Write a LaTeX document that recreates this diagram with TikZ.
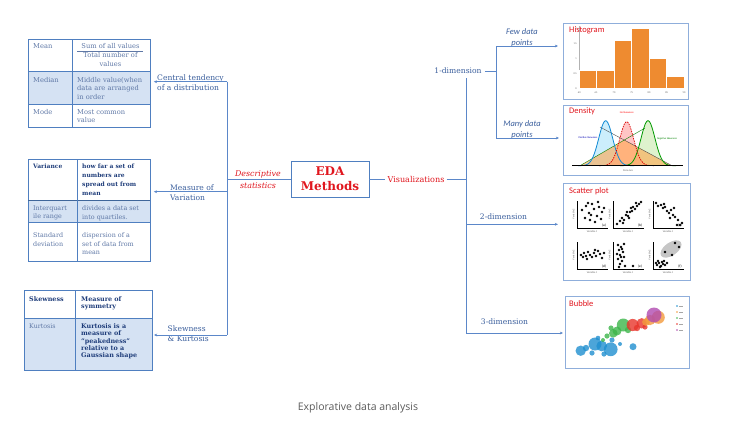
\documentclass[tikz,border=0pt]{standalone}
\usepackage{fontspec}
\setmainfont{DejaVu Serif}
\newfontfamily\capfont{Open Sans}
\newfontfamily\cali{Carlito}
\usetikzlibrary{arrows.meta,calc}
\definecolor{lineblue}{HTML}{5B87C9}
\definecolor{tabblue}{HTML}{4F7FC0}
\definecolor{rowshade}{HTML}{D5E2F3}
\definecolor{txtblue}{HTML}{3A5E9C}
\definecolor{dkblue}{HTML}{1F3D7A}
\definecolor{gtxt}{HTML}{5F78A6}
\definecolor{edared}{HTML}{E0161E}
\definecolor{imgframe}{HTML}{8FAEDB}
\definecolor{histor}{HTML}{EE8B30}
\definecolor{capgray}{HTML}{5A5A5A}
\definecolor{bblue}{HTML}{1F8FCF}
\definecolor{bgreen}{HTML}{3CB54A}
\definecolor{bred}{HTML}{E8342B}
\definecolor{borange}{HTML}{F39A3B}
\definecolor{bpurple}{HTML}{B04AB0}
\begin{document}
\begin{tikzpicture}[x=1pt,y=-1pt,
 conn/.style={draw=lineblue, line width=0.7pt},
 arr/.style={conn, -{Stealth[length=3.2pt,width=2.8pt]}},
 tabline/.style={draw=tabblue, line width=0.8pt},
 tabframe/.style={draw=tabblue, line width=0.8pt, anchor=north west, inner sep=0pt},
 ttxt/.style={anchor=north west, inner sep=0pt, font=\fontsize{6.7}{8.5}\selectfont, align=left, text=gtxt},
 btxt/.style={anchor=north west, inner sep=0pt, font=\bfseries\fontsize{6}{9}\selectfont, align=left, text=dkblue},
 ctxt/.style={anchor=north west, inner sep=0pt, font=\bfseries\fontsize{6.4}{7.3}\selectfont, align=left, text=dkblue},
 lbl/.style={inner sep=0pt, font=\fontsize{7.6}{10}\selectfont, align=left, text=txtblue},
 imgbox/.style={draw=imgframe, line width=1.1pt, anchor=north west, inner sep=0pt},
 ititle/.style={anchor=north west, inner sep=0pt, font=\cali\fontsize{8.5}{9}\selectfont, text=edared},
 tiny/.style={inner sep=0pt, font=\cali\fontsize{2.6}{3}\selectfont, text=black!60},
 sidelbl/.style={inner sep=0pt, font=\cali\itshape\fontsize{8.5}{11}\selectfont, text=txtblue, align=center}
]
\useasboundingbox (0,0) rectangle (729,424);

% ---------------- Table A
\fill[rowshade] (28,71.7) rectangle (150,104);
\node[tabframe, minimum width=122pt, minimum height=88pt] (tabA) at (28,39) {};
\draw[tabline] (28,71.7) -- (150,71.7) (28,104) -- (150,104) (72,39) -- (72,127);
\node[ttxt] (tA1) at (33,43) {Mean};
\node[ttxt, anchor=north, align=center] (tA2) at (110.5,43) {Sum of all values};
\draw[draw=gtxt, line width=0.4pt] (77,51) -- (143,51);
\node[ttxt, anchor=north, align=center] (tA3) at (110.5,52.5) {Total number of\\values};
\node[ttxt] (tA4) at (33,77) {Median};
\node[ttxt] (tA5) at (77,77) {Middle value(when\\data are arranged\\in order};
\node[ttxt] (tA6) at (33,109) {Mode};
\node[ttxt] (tA7) at (77,109) {Most common\\value};

% ---------------- Table B
\fill[rowshade] (28,200.7) rectangle (150,222.7);
\node[tabframe, minimum width=122pt, minimum height=101.7pt] (tabB) at (28,159) {};
\draw[draw=tabblue!80!black, line width=1.2pt] (28,200.7) -- (150,200.7);
\draw[tabline] (28,222.7) -- (150,222.7) (77,159) -- (77,260.7);
\node[btxt] (tB1) at (33,163.5) {Variance};
\node[btxt] (tB2) at (82,163.5) {how far a set of\\numbers are\\spread out from\\mean};
\node[ttxt, font=\fontsize{6.4}{8.5}\selectfont] (tB3) at (33,205.5) {Interquart\\ile range};
\node[ttxt, font=\fontsize{6.4}{8.5}\selectfont] (tB4) at (82,205.5) {divides a data set\\into quartiles.};
\node[ttxt, font=\fontsize{6.4}{8.5}\selectfont] (tB5) at (33,232.5) {Standard\\deviation};
\node[ttxt, font=\fontsize{6.4}{8.5}\selectfont] (tB6) at (82,232.5) {dispersion of a\\set of data from\\mean};

% ---------------- Table C
\fill[rowshade] (24,318) rectangle (151.7,370);
\node[tabframe, minimum width=127.7pt, minimum height=80pt] (tabC) at (24,290) {};
\draw[tabline] (24,318) -- (151.7,318) (75.7,290) -- (75.7,370);
\node[ctxt] (tC1) at (29,296.5) {Skewness};
\node[ctxt] (tC2) at (81,296.5) {Measure of\\symmetry};
\node[ttxt, font=\fontsize{6.3}{7.3}\selectfont] (tC3) at (29,323.5) {Kurtosis};
\node[ctxt] (tC4) at (81,323.5) {Kurtosis is a\\measure of\\“peakedness”\\relative to a\\Gaussian shape};

% ---------------- left labels & connectors
\node[lbl, anchor=west] (ctl) at (157,82.5) {Central tendency\\of a distribution};
\node[lbl, anchor=west] (mvl) at (170,192.5) {Measure of\\Variation};
\node[lbl, anchor=west] (skl) at (167.5,334) {Skewness\\\& Kurtosis};
\coordinate (ctj) at (227,81.7);
\coordinate (mvj) at (227,191.7);
\coordinate (skj) at (227,335);
\coordinate (dsj) at (227,179);
\draw[conn] (ctj) -- (skj);
\draw[arr, shorten >=3pt] (ctj) -- (ctj -| tabA.east);
\draw[arr, shorten >=3pt] (mvj) -- (mvj -| tabB.east);
\draw[arr, shorten >=1.5pt] (skj) -- (skj -| tabC.east);

% ---------------- centre
\node[draw=tabblue, line width=0.9pt, minimum width=78pt, minimum height=36pt, inner sep=0pt,
      font=\bfseries\fontsize{12}{15}\selectfont, text=edared, align=center] (eda) at (330,179) {EDA\\Methods};
\node[inner sep=0pt, font=\itshape\fontsize{7.9}{12}\selectfont, text=edared, align=center] (dsl) at (258,179.5) {Descriptive\\statistics};
\draw[conn] (dsj) -- (eda.west);
\node[inner xsep=2pt, inner ysep=0pt, font=\fontsize{8.1}{10}\selectfont, text=edared] (vis) at (416,179) {Visualizations};
\coordinate (vj) at (466,179);
\draw[conn] (eda.east) -- (vis.west);
\draw[conn] (vis.east) -- (vj);

% ---------------- right tree
\coordinate (vtop) at (466,78);
\coordinate (vbot) at (466,333);
\draw[conn] (vtop) -- (vbot);
\node[lbl] (d1) at (458,71) {1-dimension};
\coordinate (brtop) at (496,46);
\coordinate (brbot) at (496,138);
\draw[conn] ([xshift=3pt]d1.east) -- (d1.east -| brtop);
\draw[conn] (brtop) -- (brbot);
\node[sidelbl] (few) at (522,37.7) {Few data\\points};
\node[sidelbl] (many) at (522,129.5) {Many data\\points};
\node[lbl] (d2) at (503.5,217) {2-dimension};
\node[lbl] (d3) at (504.5,322) {3-dimension};
\coordinate (d2j) at (466,224.3);

% ---------------- image boxes
\node[imgbox, minimum width=125pt, minimum height=76pt] (hist) at (563,23) {};
\node[imgbox, minimum width=125pt, minimum height=70pt] (dens) at (563,105) {};
\node[imgbox, minimum width=127pt, minimum height=97pt] (scat) at (563,183) {};
\node[imgbox, minimum width=124pt, minimum height=72pt] (bubb) at (565,296) {};

\draw[arr, shorten >=5pt] (brtop) -- (brtop -| hist.west);
\draw[arr, shorten >=4pt] (brbot) -- (brbot -| dens.west);
\draw[arr, shorten >=5pt] (d2j) -- (d2j -| scat.west);
\draw[arr, shorten >=2pt] (vbot) -- (vbot -| bubb.west);

% histogram
\draw[black!30, line width=0.3pt] (579.3,26) -- (579.3,88.3) -- (684,88.3);
\foreach \a/\b/\t in {579.3/596/70.7, 596/614/70.7, 614/631.7/40.7, 631.7/649/28.3, 649/666.7/58.3, 666.7/684/76.7}
  \fill[histor, draw=white, line width=0.6pt] (\a,88.3) rectangle (\b,\t);
\foreach \v/\y in {2/28.3, 1.5/43.3, 1/58.3, 0.5/73.3, 0/88.3}
  \node[tiny, anchor=east] at (577,\y) {\v};
\foreach \v/\x in {60/579.3, 65/596, 70/614, 75/631.7, 80/649, 85/666.7, 90/684}
  \node[tiny] at (\x,93) {\v};
\node[ititle] (hT) at (569,26) {Histogram};

% density
\fill[cyan!25, opacity=0.8] plot[domain=578:634, samples=50] (\x,{165.7-45*exp(-((\x-605.7)*(\x-605.7))/98)}) -- cycle;
\fill[yellow!35!green!25, opacity=0.8] plot[domain=620:676, samples=50] (\x,{165.7-45*exp(-((\x-648)*(\x-648))/98)}) -- cycle;
\fill[red!30, opacity=0.75] plot[domain=599:654, samples=50] (\x,{165.7-44*exp(-((\x-626.7)*(\x-626.7))/98)}) -- cycle;
\fill[orange!70, opacity=0.6] (580,165.7) -- (624.3,139.8) -- (672,165.7) -- cycle;
\draw[gray!60!black, line width=0.4pt] (600,127) -- (672,165.7);
\draw[green!50!black, line width=0.4pt] (580,165.7) -- (645,128);
\draw[cyan!70!blue, line width=0.8pt] plot[domain=578:634, samples=50] (\x,{165.7-45*exp(-((\x-605.7)*(\x-605.7))/98)});
\draw[green!60!black, line width=0.8pt] plot[domain=620:676, samples=50] (\x,{165.7-45*exp(-((\x-648)*(\x-648))/98)});
\draw[red!85!black, line width=0.7pt, dash pattern=on 1.5pt off 1pt] plot[domain=599:654, samples=50] (\x,{165.7-44*exp(-((\x-626.7)*(\x-626.7))/98)});
\draw[black, line width=0.8pt] (572,165.7) -- (683,165.7);
\node[tiny, text=red] at (626.7,113) {No Skewness};
\node[tiny, text=blue!70!black] at (588,138) {Positive Skewness};
\node[tiny, text=green!50!black] at (667,139) {Negative Skewness};
\node[tiny] at (628,171) {Data Axis};
\node[ititle] (dT) at (569,107.5) {Density};

% scatter
\node[ititle] (sT) at (569,187) {Scatter plot};
\foreach \ox/\oy/\lab in {577/228/a, 613/228/b, 653/228/c, 577/269/d, 613/269/e, 653/269/f}{
  \draw[black, line width=0.6pt] (\ox,\oy-27) -- (\ox,\oy) -- (\ox+31,\oy);
  \node[tiny, text=black, font=\cali\fontsize{3.5}{4}\selectfont] at (\ox+27,\oy-3) {(\lab)};
  \node[tiny] at (\ox+15,\oy+3.5) {Variable 1};
  \node[tiny, rotate=90] at (\ox-3.5,\oy-14) {Variable 2};
}
\fill[gray!45] (671,249) ellipse[x radius=12pt, y radius=6.5pt, rotate=35];
\foreach \dx/\dy in {5/18,9/22,12/15,15/24,17/19,20/12,22/21,25/16,8/10,13/8,18/6,24/9,27/20,11/25,21/26,14/13}
  \fill (577+\dx,228-\dy) circle (1.3pt);
\foreach \dx/\dy in {4/4,7/7,9/10,11/8,13/13,15/12,17/16,19/17,20/21,22/19,24/22,26/24,28/26,14/16,18/20,23/25,10/5,16/10}
  \fill (613+\dx,228-\dy) circle (1.3pt);
\foreach \dx/\dy in {3/25,5/22,8/23,10/20,12/21,14/17,16/15,18/18,20/13,22/11,25/8,17/10,24/3,27/3,29/5,11/24,21/20}
  \fill (653+\dx,228-\dy) circle (1.3pt);
\foreach \dx/\dy in {4/14,7/16,9/13,11/17,13/14,15/12,17/16,19/13,21/18,23/15,25/11,27/16,10/10,18/19,6/12}
  \fill (577+\dx,269-\dy) circle (1.3pt);
\foreach \dx/\dy in {5/24,8/22,6/19,10/17,7/14,11/12,5/10,9/8,7/5,12/3,4/15,9/20,6/2,11/25,20/3,8/12}
  \fill (613+\dx,269-\dy) circle (1.3pt);
\foreach \dx/\dy in {4/4,6/6,8/3,10/5,5/8,9/7,12/4,7/2,11/8,14/6,3/6,12/17,22/26,26/22,19/14}
  \fill (653+\dx,269-\dy) circle (1.3pt);

% bubble
\node[ititle] (bT) at (569,300) {Bubble};
\foreach \x/\y/\r/\c in {
 580.7/350.7/5.2/bblue, 586/348/3.2/bblue, 595/344/6.5/bblue, 601.7/346/5.4/bblue, 610.7/349.3/6.9/bblue,
 592/353/2.6/bblue, 604/354/2.6/bblue, 633/346.7/3.5/bblue, 598/338/2.3/bblue, 612/340/2.6/bblue, 620/344/2/bblue,
 613.3/333.3/4.3/bgreen, 623.3/325/6.5/bgreen, 617/331/4.5/bgreen, 607/336/2.6/bgreen, 603/340/2/bgreen,
 628/330/3.2/bgreen, 611/328/2.6/bgreen,
 632.7/325/6.1/bred, 641.7/323.3/5.2/bred, 637/328/3.2/bred, 645/327/2.6/bred,
 650/320/5.2/borange, 658.3/317.3/6.5/borange, 646/322/3.9/borange,
 654/315/7.5/bpurple}
  \fill[\c, fill opacity=0.8] (\x,\y) circle (\r pt);
\foreach \y/\c in {306/bblue, 312/borange, 318/bgreen, 324/bred, 330/bpurple}{
  \fill[\c] (677,\y) circle (0.8pt);
  \draw[black!35, line width=0.5pt] (679,\y) -- (683,\y);
}

% caption
\node[inner sep=0pt, font=\capfont\fontsize{10.5}{12}\selectfont, text=capgray] (cap) at (358,408) {Explorative data analysis};
\end{tikzpicture}
\end{document}
